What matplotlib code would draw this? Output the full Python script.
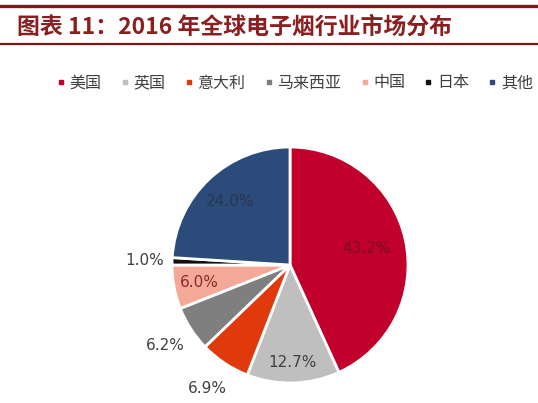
import matplotlib
matplotlib.use("Agg")
import matplotlib.pyplot as plt
from matplotlib.lines import Line2D
import numpy as np

plt.rcParams['font.family'] = ['Noto Sans CJK SC', 'DejaVu Sans']

categories = ['美国', '英国', '意大利', '马来西亚', '中国', '日本', '其他']
values = [43.2, 12.7, 6.9, 6.2, 6.0, 1.0, 24.0]
labels = ['43.2%', '12.7%', '6.9%', '6.2%', '6.0%', '1.0%', '24.0%']
colors = ['#C1002B', '#BFBFBF', '#E03A0C', '#7F7F7F', '#F4A898', '#111111', '#2B4B7B']
label_dist = [0.66, 0.83, 1.26, 1.26, 0.78, 1.23, 0.74]
label_colors = ['#7A1020', '#404040', '#404040', '#404040', '#8B2A2A', '#404040', '#2A3550']

W, H = 538, 403
fig = plt.figure(figsize=(W / 100, H / 100), dpi=100)
fig.patch.set_facecolor('white')

# Title block
title_color = '#8B1E1E'
fig.add_artist(Line2D([0, 1], [1 - 5.5 / H, 1 - 5.5 / H], color='#7B1A1A', lw=2.4))
fig.add_artist(Line2D([0, 1], [1 - 43.5 / H, 1 - 43.5 / H], color='#7B1A1A', lw=1.6))
fig.text(17 / W, 1 - 27 / H, '图表 11：2016 年全球电子烟行业市场分布', color=title_color,
         fontsize=16.5, fontweight='bold', fontstyle='italic', ha='left', va='center')

# Pie
cx, cy, R = 290, 265, 118
ax = fig.add_axes([(cx - R) / W, (H - cy - R) / H, 2 * R / W, 2 * R / H])
wedges, _ = ax.pie(values, colors=colors, startangle=90, counterclock=False, radius=1,
                   wedgeprops=dict(edgecolor='white', linewidth=2.0))
ax.set_xlim(-1, 1)
ax.set_ylim(-1, 1)
ax.set_aspect('equal')
ax.axis('off')

for w, lab, d, c in zip(wedges, labels, label_dist, label_colors):
    ang = np.deg2rad((w.theta1 + w.theta2) / 2)
    ax.text(d * np.cos(ang), d * np.sin(ang), lab, ha='center', va='center',
            fontsize=11, color=c, family=['DejaVu Sans'])

# Legend
handles = [Line2D([], [], marker='s', linestyle='none', markersize=3.5,
                  markerfacecolor=c, markeredgecolor=c) for c in colors]
fig.legend(handles, categories, loc='center', bbox_to_anchor=(295 / W, 1 - 83 / H),
           ncol=7, frameon=False, fontsize=11.5, handlelength=0.5, handletextpad=0.3,
           columnspacing=1.2, labelcolor='#404040', borderpad=0.2)

fig.savefig('out.png', dpi=100, facecolor='white')
